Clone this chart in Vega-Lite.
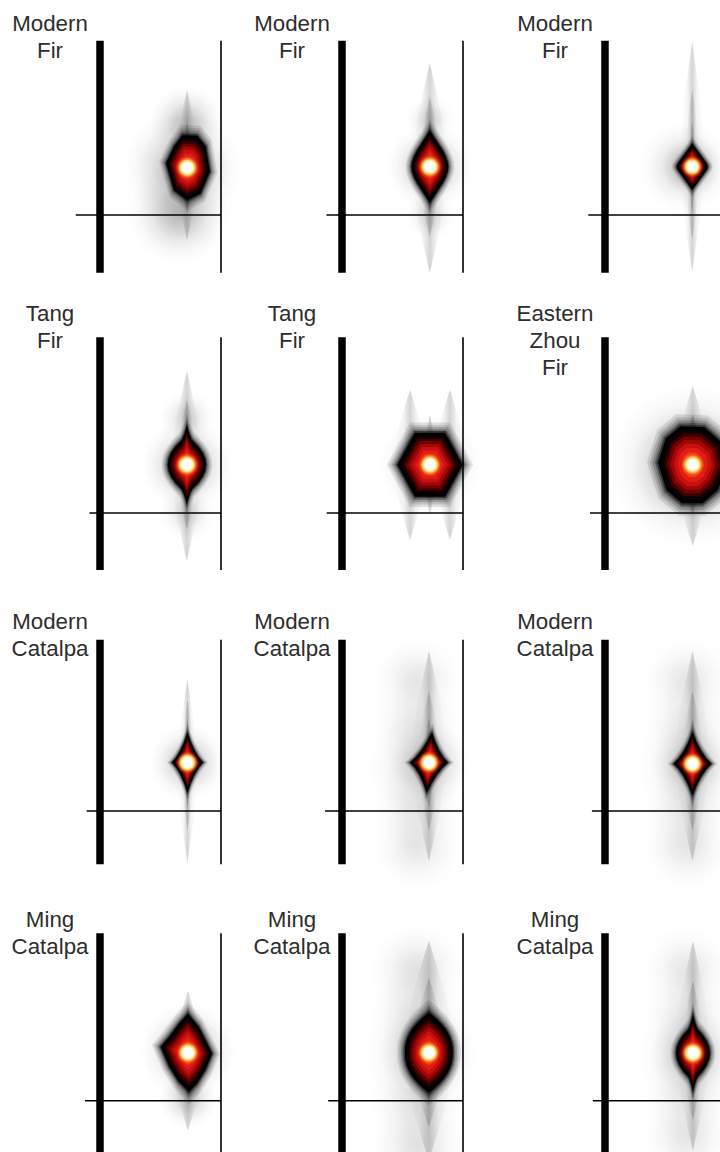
{
"$schema": "https://vega.github.io/schema/vega-lite/v6.json",
"padding": 0,
"background": "#ffffff",
"columns": 3,
"spacing": 0,
"align": "each",
"bounds": "flush",
"config": {
 "view": {"stroke": null},
 "axis": {"disable": true},
 "legend": {"disable": true},
 "range": {"symbol": [
  "M-0.15,-1L0.31,-0.98L0.57,-0.65L0.7,0.12L0.41,0.79L0,1L-0.41,0.69L-0.65,-0.14L-0.41,-0.65Z",
  "M0,-1L0.23,-0.65Q0.51,-0.25 0.51,0Q0.51,0.25 0.23,0.65L0,1L-0.23,0.65Q-0.51,0.25 -0.51,0Q-0.51,-0.25 -0.23,-0.65Z",
  "M0,-1L0.6,-0.18Q0.74,0 0.6,0.18L0,1L-0.6,0.18Q-0.74,0 -0.6,-0.18Z",
  "M0,-1Q0.06,-0.75 0.14,-0.62Q0.49,-0.3 0.49,0Q0.49,0.3 0.14,0.62Q0.06,0.75 0,1Q-0.06,0.75 -0.14,0.62Q-0.49,0.3 -0.49,0Q-0.49,-0.3 -0.14,-0.62Q-0.06,-0.75 0,-1Z",
  "M-0.47,-1L0.47,-1L1.02,0L0.47,1L-0.47,1L-1.02,0Z",
  "M-0.32,-1L0.3,-0.97L0.78,-0.55L0.9,0.05L0.65,0.66L0.25,1L-0.28,1L-0.68,0.66L-0.9,-0.05L-0.7,-0.68Z",
  "M0,-1Q0.22,-0.28 0.52,0Q0.22,0.28 0,1Q-0.22,0.28 -0.52,0Q-0.22,-0.28 0,-1Z",
  "M0.1,-1Q0.3,-0.3 0.63,0Q0.26,0.3 -0.08,1Q-0.28,0.3 -0.63,0Q-0.24,-0.3 0.1,-1Z",
  "M0,-1Q0.25,-0.3 0.6,0Q0.25,0.3 0,1Q-0.25,0.3 -0.6,0Q-0.25,-0.3 0,-1Z",
  "M0,-1L0.28,-0.66L0.45,-0.32L0.62,0.02L0.45,0.44L0.24,0.78L0.03,1L-0.24,0.74L-0.48,0.36L-0.7,-0.15L-0.48,-0.41L-0.23,-0.75Z",
  "M0,-1Q0.62,-0.55 0.6,0Q0.62,0.55 0,1Q-0.62,0.55 -0.6,0Q-0.62,-0.55 0,-1Z",
  "M0,-1Q0.05,-0.75 0.12,-0.62Q0.44,-0.3 0.44,0Q0.44,0.3 0.12,0.62Q0.05,0.75 0,1Q-0.05,0.75 -0.12,0.62Q-0.44,0.3 -0.44,0Q-0.44,-0.3 -0.12,-0.62Q-0.05,-0.75 0,-1Z",
  "circle",
  "M0,-1C0.035,-0.75 0.1,-0.35 0.1,0C0.1,0.35 0.035,0.75 0,1C-0.035,0.75 -0.1,0.35 -0.1,0C-0.1,-0.35 -0.035,-0.75 0,-1Z",
  "M0,-1C0.056,-0.75 0.16,-0.35 0.16,0C0.16,0.35 0.056,0.75 0,1C-0.056,0.75 -0.16,0.35 -0.16,0C-0.16,-0.35 -0.056,-0.75 0,-1Z",
  "M0,-1C0.077,-0.75 0.22,-0.35 0.22,0C0.22,0.35 0.077,0.75 0,1C-0.077,0.75 -0.22,0.35 -0.22,0C-0.22,-0.35 -0.077,-0.75 0,-1Z"
 ]}
},
"datasets": {"d": [
{"p":"11","k":"f","label":"Modern\nFir","top":1.743,"bot":-0.577,"from":-0.2,"ly":1.843},
{"p":"11","k":"s","f":"s2","x":0.72,"y":0.5,"h":1.5},
{"p":"11","k":"s","f":"s2","x":0.721,"y":0.473,"h":0.9},
{"p":"11","k":"c","f":"o","x":0.655,"y":0.02,"h":1.0,"wt":0.8},
{"p":"11","k":"c","f":"o","x":0.68,"y":0.47,"h":1.15,"wt":0.9},
{"p":"11","k":"c","f":"o","x":0.715,"y":0.92,"h":0.75,"wt":0.7},
{"p":"11","k":"g","lv":"h1","f":"c11","x":0.721,"y":0.473,"h":0.858},
{"p":"11","k":"g","lv":"h2","f":"c11","x":0.721,"y":0.473,"h":0.806},
{"p":"11","k":"g","lv":"h3","f":"c11","x":0.721,"y":0.473,"h":0.761},
{"p":"11","k":"g","lv":"h4","f":"c11","x":0.721,"y":0.473,"h":0.715},
{"p":"11","k":"g","lv":"h5","f":"c11","x":0.721,"y":0.473,"h":0.683},
{"p":"11","k":"g","lv":"k1","f":"c11","x":0.721,"y":0.473,"h":0.65},
{"p":"11","k":"g","lv":"k2","f":"c11","x":0.721,"y":0.473,"h":0.585},
{"p":"11","k":"g","lv":"k3","f":"c11","x":0.721,"y":0.473,"h":0.533},
{"p":"11","k":"g","lv":"k4","f":"c11","x":0.721,"y":0.473,"h":0.481},
{"p":"11","k":"g","lv":"k5","f":"c11","x":0.721,"y":0.473,"h":0.423},
{"p":"11","k":"g","lv":"k6","f":"c11","x":0.721,"y":0.473,"h":0.358},
{"p":"11","k":"g","lv":"k7","f":"c11","x":0.721,"y":0.473,"h":0.286},
{"p":"11","k":"g","lv":"k8","f":"c11","x":0.721,"y":0.473,"h":0.208},
{"p":"11","k":"w","f":"o","x":0.721,"y":0.473,"h":0.24},

{"p":"12","k":"f","label":"Modern\nFir","top":1.743,"bot":-0.577,"from":-0.128,"ly":1.843},
{"p":"12","k":"s","f":"s2","x":0.726,"y":0.47,"h":2.1},
{"p":"12","k":"s","f":"s2","x":0.726,"y":0.48,"h":1.4},
{"p":"12","k":"s","f":"s2","x":0.726,"y":0.483,"h":0.9},
{"p":"12","k":"c","f":"o","x":0.726,"y":0.483,"h":0.85,"wt":0.8},
{"p":"12","k":"c","f":"o","x":0.726,"y":0.0,"h":0.5,"wt":0.4},
{"p":"12","k":"c","f":"o","x":0.726,"y":0.95,"h":0.5,"wt":0.4},
{"p":"12","k":"g","lv":"h1","f":"c12","x":0.726,"y":0.483,"h":0.95},
{"p":"12","k":"g","lv":"h2","f":"c12","x":0.726,"y":0.483,"h":0.893},
{"p":"12","k":"g","lv":"h3","f":"c12","x":0.726,"y":0.483,"h":0.842},
{"p":"12","k":"g","lv":"h4","f":"c12","x":0.726,"y":0.483,"h":0.792},
{"p":"12","k":"g","lv":"h5","f":"c12","x":0.726,"y":0.483,"h":0.756},
{"p":"12","k":"g","lv":"k1","f":"c12","x":0.726,"y":0.483,"h":0.72},
{"p":"12","k":"g","lv":"k2","f":"c12","x":0.726,"y":0.483,"h":0.648},
{"p":"12","k":"g","lv":"k3","f":"c12","x":0.726,"y":0.483,"h":0.59},
{"p":"12","k":"g","lv":"k4","f":"c12","x":0.726,"y":0.483,"h":0.533},
{"p":"12","k":"g","lv":"k5","f":"c12","x":0.726,"y":0.483,"h":0.468},
{"p":"12","k":"g","lv":"k6","f":"c12","x":0.726,"y":0.483,"h":0.396},
{"p":"12","k":"g","lv":"k7","f":"c12","x":0.726,"y":0.483,"h":0.317},
{"p":"12","k":"g","lv":"k8","f":"c12","x":0.726,"y":0.483,"h":0.23},
{"p":"12","k":"w","f":"o","x":0.726,"y":0.483,"h":0.24},

{"p":"13","k":"f","label":"Modern\nFir","top":1.743,"bot":-0.577,"from":-0.138,"ly":1.843},
{"p":"13","k":"s","f":"s1","x":0.721,"y":0.58,"h":2.3},
{"p":"13","k":"s","f":"s1","x":0.721,"y":0.5,"h":1.5},
{"p":"13","k":"s","f":"s1","x":0.721,"y":0.483,"h":0.9},
{"p":"13","k":"c","f":"o","x":0.66,"y":0.483,"h":0.9,"wt":0.6},
{"p":"13","k":"c","f":"o","x":0.721,"y":0.483,"h":0.6,"wt":0.7},
{"p":"13","k":"g","lv":"h1","f":"c13","x":0.721,"y":0.483,"h":0.607},
{"p":"13","k":"g","lv":"h2","f":"c13","x":0.721,"y":0.483,"h":0.57},
{"p":"13","k":"g","lv":"h3","f":"c13","x":0.721,"y":0.483,"h":0.538},
{"p":"13","k":"g","lv":"h4","f":"c13","x":0.721,"y":0.483,"h":0.506},
{"p":"13","k":"g","lv":"h5","f":"c13","x":0.721,"y":0.483,"h":0.483},
{"p":"13","k":"g","lv":"k1","f":"c13","x":0.721,"y":0.483,"h":0.46},
{"p":"13","k":"g","lv":"k2","f":"c13","x":0.721,"y":0.483,"h":0.414},
{"p":"13","k":"g","lv":"k3","f":"c13","x":0.721,"y":0.483,"h":0.377},
{"p":"13","k":"g","lv":"k4","f":"c13","x":0.721,"y":0.483,"h":0.34},
{"p":"13","k":"g","lv":"k5","f":"c13","x":0.721,"y":0.483,"h":0.299},
{"p":"13","k":"g","lv":"k6","f":"c13","x":0.721,"y":0.483,"h":0.253},
{"p":"13","k":"g","lv":"k7","f":"c13","x":0.721,"y":0.483,"h":0.202},
{"p":"13","k":"g","lv":"k8","f":"c13","x":0.721,"y":0.483,"h":0.147},
{"p":"13","k":"w","f":"o","x":0.721,"y":0.483,"h":0.22},

{"p":"21","k":"f","label":"Tang\nFir","top":1.757,"bot":-0.57,"from":-0.087,"ly":1.923},
{"p":"21","k":"s","f":"s2","x":0.718,"y":0.47,"h":1.9},
{"p":"21","k":"s","f":"s2","x":0.718,"y":0.48,"h":1.3},
{"p":"21","k":"s","f":"s2","x":0.718,"y":0.483,"h":0.85},
{"p":"21","k":"c","f":"o","x":0.718,"y":0.483,"h":0.9,"wt":0.85},
{"p":"21","k":"c","f":"o","x":0.718,"y":0.0,"h":0.55,"wt":0.45},
{"p":"21","k":"c","f":"o","x":0.718,"y":0.95,"h":0.55,"wt":0.45},
{"p":"21","k":"g","lv":"h1","f":"c21","x":0.718,"y":0.483,"h":1.03},
{"p":"21","k":"g","lv":"h2","f":"c21","x":0.718,"y":0.483,"h":0.967},
{"p":"21","k":"g","lv":"h3","f":"c21","x":0.718,"y":0.483,"h":0.913},
{"p":"21","k":"g","lv":"h4","f":"c21","x":0.718,"y":0.483,"h":0.858},
{"p":"21","k":"g","lv":"h5","f":"c21","x":0.718,"y":0.483,"h":0.819},
{"p":"21","k":"g","lv":"k1","f":"c21","x":0.718,"y":0.483,"h":0.78},
{"p":"21","k":"g","lv":"k2","f":"c21","x":0.718,"y":0.483,"h":0.702},
{"p":"21","k":"g","lv":"k3","f":"c21","x":0.718,"y":0.483,"h":0.64},
{"p":"21","k":"g","lv":"k4","f":"c21","x":0.718,"y":0.483,"h":0.577},
{"p":"21","k":"g","lv":"k5","f":"c21","x":0.718,"y":0.483,"h":0.507},
{"p":"21","k":"g","lv":"k6","f":"c21","x":0.718,"y":0.483,"h":0.429},
{"p":"21","k":"g","lv":"k7","f":"c21","x":0.718,"y":0.483,"h":0.343},
{"p":"21","k":"g","lv":"k8","f":"c21","x":0.718,"y":0.483,"h":0.25},
{"p":"21","k":"w","f":"o","x":0.718,"y":0.483,"h":0.24},

{"p":"22","k":"f","label":"Tang\nFir","top":1.757,"bot":-0.57,"from":-0.126,"ly":1.923},
{"p":"22","k":"s","f":"s3","x":0.562,"y":0.483,"h":1.5},
{"p":"22","k":"s","f":"s3","x":0.892,"y":0.483,"h":1.5},
{"p":"22","k":"s","f":"s2","x":0.727,"y":0.483,"h":1.0},
{"p":"22","k":"c","f":"o","x":0.727,"y":0.483,"h":1.0,"wt":0.75},
{"p":"22","k":"g","lv":"h1","f":"c22","x":0.727,"y":0.483,"h":0.845},
{"p":"22","k":"g","lv":"h2","f":"c22","x":0.727,"y":0.483,"h":0.794},
{"p":"22","k":"g","lv":"h3","f":"c22","x":0.727,"y":0.483,"h":0.749},
{"p":"22","k":"g","lv":"h4","f":"c22","x":0.727,"y":0.483,"h":0.704},
{"p":"22","k":"g","lv":"h5","f":"c22","x":0.727,"y":0.483,"h":0.672},
{"p":"22","k":"g","lv":"k1","f":"c22","x":0.727,"y":0.483,"h":0.64},
{"p":"22","k":"g","lv":"k2","f":"c22","x":0.727,"y":0.483,"h":0.576},
{"p":"22","k":"g","lv":"k3","f":"c22","x":0.727,"y":0.483,"h":0.525},
{"p":"22","k":"g","lv":"k4","f":"c22","x":0.727,"y":0.483,"h":0.474},
{"p":"22","k":"g","lv":"k5","f":"c22","x":0.727,"y":0.483,"h":0.416},
{"p":"22","k":"g","lv":"k6","f":"c22","x":0.727,"y":0.483,"h":0.352},
{"p":"22","k":"g","lv":"k7","f":"c22","x":0.727,"y":0.483,"h":0.282},
{"p":"22","k":"g","lv":"k8","f":"c22","x":0.727,"y":0.483,"h":0.205},
{"p":"22","k":"w","f":"o","x":0.727,"y":0.483,"h":0.24},

{"p":"23","k":"f","label":"Eastern\nZhou\nFir","top":1.757,"bot":-0.57,"from":-0.124,"ly":1.923},
{"p":"23","k":"s","f":"s3","x":0.725,"y":0.47,"h":1.6},
{"p":"23","k":"s","f":"s3","x":0.725,"y":0.483,"h":1.0},
{"p":"23","k":"c","f":"o","x":0.71,"y":0.47,"h":1.6,"wt":0.85},
{"p":"23","k":"c","f":"o","x":0.72,"y":0.48,"h":1.15,"wt":0.75},
{"p":"23","k":"g","lv":"h1","f":"c23","x":0.725,"y":0.483,"h":1.016},
{"p":"23","k":"g","lv":"h2","f":"c23","x":0.725,"y":0.483,"h":0.955},
{"p":"23","k":"g","lv":"h3","f":"c23","x":0.725,"y":0.483,"h":0.901},
{"p":"23","k":"g","lv":"h4","f":"c23","x":0.725,"y":0.483,"h":0.847},
{"p":"23","k":"g","lv":"h5","f":"c23","x":0.725,"y":0.483,"h":0.809},
{"p":"23","k":"g","lv":"k1","f":"c23","x":0.725,"y":0.483,"h":0.77},
{"p":"23","k":"g","lv":"k2","f":"c23","x":0.725,"y":0.483,"h":0.693},
{"p":"23","k":"g","lv":"k3","f":"c23","x":0.725,"y":0.483,"h":0.631},
{"p":"23","k":"g","lv":"k4","f":"c23","x":0.725,"y":0.483,"h":0.57},
{"p":"23","k":"g","lv":"k5","f":"c23","x":0.725,"y":0.483,"h":0.501},
{"p":"23","k":"g","lv":"k6","f":"c23","x":0.725,"y":0.483,"h":0.424},
{"p":"23","k":"g","lv":"k7","f":"c23","x":0.725,"y":0.483,"h":0.339},
{"p":"23","k":"g","lv":"k8","f":"c23","x":0.725,"y":0.483,"h":0.246},
{"p":"23","k":"w","f":"o","x":0.725,"y":0.483,"h":0.24},

{"p":"31","k":"f","label":"Modern\nCatalpa","top":1.712,"bot":-0.533,"from":-0.11,"ly":1.824},
{"p":"31","k":"s","f":"s1","x":0.723,"y":0.4,"h":1.85},
{"p":"31","k":"s","f":"s1","x":0.723,"y":0.46,"h":1.3},
{"p":"31","k":"s","f":"s1","x":0.723,"y":0.484,"h":0.9},
{"p":"31","k":"c","f":"o","x":0.723,"y":0.484,"h":0.75,"wt":0.8},
{"p":"31","k":"g","lv":"h1","f":"c31","x":0.723,"y":0.484,"h":0.792},
{"p":"31","k":"g","lv":"h2","f":"c31","x":0.723,"y":0.484,"h":0.744},
{"p":"31","k":"g","lv":"h3","f":"c31","x":0.723,"y":0.484,"h":0.702},
{"p":"31","k":"g","lv":"h4","f":"c31","x":0.723,"y":0.484,"h":0.66},
{"p":"31","k":"g","lv":"h5","f":"c31","x":0.723,"y":0.484,"h":0.63},
{"p":"31","k":"g","lv":"k1","f":"c31","x":0.723,"y":0.484,"h":0.6},
{"p":"31","k":"g","lv":"k2","f":"c31","x":0.723,"y":0.484,"h":0.54},
{"p":"31","k":"g","lv":"k3","f":"c31","x":0.723,"y":0.484,"h":0.492},
{"p":"31","k":"g","lv":"k4","f":"c31","x":0.723,"y":0.484,"h":0.444},
{"p":"31","k":"g","lv":"k5","f":"c31","x":0.723,"y":0.484,"h":0.39},
{"p":"31","k":"g","lv":"k6","f":"c31","x":0.723,"y":0.484,"h":0.33},
{"p":"31","k":"g","lv":"k7","f":"c31","x":0.723,"y":0.484,"h":0.264},
{"p":"31","k":"g","lv":"k8","f":"c31","x":0.723,"y":0.484,"h":0.192},
{"p":"31","k":"w","f":"o","x":0.723,"y":0.484,"h":0.23},

{"p":"32","k":"f","label":"Modern\nCatalpa","top":1.712,"bot":-0.533,"from":-0.14,"ly":1.824},
{"p":"32","k":"s","f":"s2","x":0.719,"y":0.55,"h":2.1},
{"p":"32","k":"s","f":"s2","x":0.719,"y":0.5,"h":1.4},
{"p":"32","k":"s","f":"s2","x":0.719,"y":0.484,"h":0.9},
{"p":"32","k":"c","f":"o","x":0.62,"y":1.3,"h":0.9,"wt":0.3},
{"p":"32","k":"c","f":"o","x":0.62,"y":0.85,"h":0.9,"wt":0.3},
{"p":"32","k":"c","f":"o","x":0.62,"y":0.45,"h":1.0,"wt":0.35},
{"p":"32","k":"c","f":"o","x":0.62,"y":0.05,"h":0.9,"wt":0.3},
{"p":"32","k":"c","f":"o","x":0.62,"y":-0.35,"h":0.9,"wt":0.3},
{"p":"32","k":"c","f":"o","x":0.719,"y":0.484,"h":0.8,"wt":0.6},
{"p":"32","k":"g","lv":"h1","f":"c32","x":0.719,"y":0.484,"h":0.792},
{"p":"32","k":"g","lv":"h2","f":"c32","x":0.719,"y":0.484,"h":0.744},
{"p":"32","k":"g","lv":"h3","f":"c32","x":0.719,"y":0.484,"h":0.702},
{"p":"32","k":"g","lv":"h4","f":"c32","x":0.719,"y":0.484,"h":0.66},
{"p":"32","k":"g","lv":"h5","f":"c32","x":0.719,"y":0.484,"h":0.63},
{"p":"32","k":"g","lv":"k1","f":"c32","x":0.719,"y":0.484,"h":0.6},
{"p":"32","k":"g","lv":"k2","f":"c32","x":0.719,"y":0.484,"h":0.54},
{"p":"32","k":"g","lv":"k3","f":"c32","x":0.719,"y":0.484,"h":0.492},
{"p":"32","k":"g","lv":"k4","f":"c32","x":0.719,"y":0.484,"h":0.444},
{"p":"32","k":"g","lv":"k5","f":"c32","x":0.719,"y":0.484,"h":0.39},
{"p":"32","k":"g","lv":"k6","f":"c32","x":0.719,"y":0.484,"h":0.33},
{"p":"32","k":"g","lv":"k7","f":"c32","x":0.719,"y":0.484,"h":0.264},
{"p":"32","k":"g","lv":"k8","f":"c32","x":0.719,"y":0.484,"h":0.192},
{"p":"32","k":"w","f":"o","x":0.719,"y":0.484,"h":0.23},

{"p":"33","k":"f","label":"Modern\nCatalpa","top":1.712,"bot":-0.533,"from":-0.108,"ly":1.824},
{"p":"33","k":"s","f":"s2","x":0.723,"y":0.55,"h":2.1},
{"p":"33","k":"s","f":"s2","x":0.723,"y":0.5,"h":1.4},
{"p":"33","k":"s","f":"s2","x":0.723,"y":0.472,"h":0.9},
{"p":"33","k":"c","f":"o","x":0.68,"y":1.3,"h":0.9,"wt":0.3},
{"p":"33","k":"c","f":"o","x":0.68,"y":0.85,"h":0.9,"wt":0.3},
{"p":"33","k":"c","f":"o","x":0.68,"y":0.45,"h":1.0,"wt":0.35},
{"p":"33","k":"c","f":"o","x":0.68,"y":0.05,"h":0.9,"wt":0.3},
{"p":"33","k":"c","f":"o","x":0.68,"y":-0.35,"h":0.9,"wt":0.3},
{"p":"33","k":"c","f":"o","x":0.723,"y":0.472,"h":0.8,"wt":0.6},
{"p":"33","k":"g","lv":"h1","f":"c33","x":0.723,"y":0.472,"h":0.832},
{"p":"33","k":"g","lv":"h2","f":"c33","x":0.723,"y":0.472,"h":0.781},
{"p":"33","k":"g","lv":"h3","f":"c33","x":0.723,"y":0.472,"h":0.737},
{"p":"33","k":"g","lv":"h4","f":"c33","x":0.723,"y":0.472,"h":0.693},
{"p":"33","k":"g","lv":"h5","f":"c33","x":0.723,"y":0.472,"h":0.662},
{"p":"33","k":"g","lv":"k1","f":"c33","x":0.723,"y":0.472,"h":0.63},
{"p":"33","k":"g","lv":"k2","f":"c33","x":0.723,"y":0.472,"h":0.567},
{"p":"33","k":"g","lv":"k3","f":"c33","x":0.723,"y":0.472,"h":0.517},
{"p":"33","k":"g","lv":"k4","f":"c33","x":0.723,"y":0.472,"h":0.466},
{"p":"33","k":"g","lv":"k5","f":"c33","x":0.723,"y":0.472,"h":0.41},
{"p":"33","k":"g","lv":"k6","f":"c33","x":0.723,"y":0.472,"h":0.347},
{"p":"33","k":"g","lv":"k7","f":"c33","x":0.723,"y":0.472,"h":0.277},
{"p":"33","k":"g","lv":"k8","f":"c33","x":0.723,"y":0.472,"h":0.202},
{"p":"33","k":"w","f":"o","x":0.723,"y":0.472,"h":0.23},

{"p":"41","k":"f","label":"Ming\nCatalpa","top":1.674,"bot":-0.7,"from":-0.124,"ly":1.734},
{"p":"41","k":"s","f":"s3","x":0.727,"y":0.4,"h":1.4},
{"p":"41","k":"s","f":"s3","x":0.727,"y":0.48,"h":0.9},
{"p":"41","k":"c","f":"o","x":0.727,"y":0.5,"h":0.95,"wt":0.85},
{"p":"41","k":"c","f":"o","x":0.727,"y":0.02,"h":0.6,"wt":0.6},
{"p":"41","k":"g","lv":"h1","f":"c41","x":0.727,"y":0.48,"h":1.03},
{"p":"41","k":"g","lv":"h2","f":"c41","x":0.727,"y":0.48,"h":0.967},
{"p":"41","k":"g","lv":"h3","f":"c41","x":0.727,"y":0.48,"h":0.913},
{"p":"41","k":"g","lv":"h4","f":"c41","x":0.727,"y":0.48,"h":0.858},
{"p":"41","k":"g","lv":"h5","f":"c41","x":0.727,"y":0.48,"h":0.819},
{"p":"41","k":"g","lv":"k1","f":"c41","x":0.727,"y":0.48,"h":0.78},
{"p":"41","k":"g","lv":"k2","f":"c41","x":0.727,"y":0.48,"h":0.702},
{"p":"41","k":"g","lv":"k3","f":"c41","x":0.727,"y":0.48,"h":0.64},
{"p":"41","k":"g","lv":"k4","f":"c41","x":0.727,"y":0.48,"h":0.577},
{"p":"41","k":"g","lv":"k5","f":"c41","x":0.727,"y":0.48,"h":0.507},
{"p":"41","k":"g","lv":"k6","f":"c41","x":0.727,"y":0.48,"h":0.429},
{"p":"41","k":"g","lv":"k7","f":"c41","x":0.727,"y":0.48,"h":0.343},
{"p":"41","k":"g","lv":"k8","f":"c41","x":0.727,"y":0.48,"h":0.25},
{"p":"41","k":"w","f":"o","x":0.727,"y":0.48,"h":0.24},

{"p":"42","k":"f","label":"Ming\nCatalpa","top":1.674,"bot":-0.7,"from":-0.114,"ly":1.734},
{"p":"42","k":"s","f":"s3","x":0.718,"y":0.5,"h":2.2},
{"p":"42","k":"s","f":"s3","x":0.718,"y":0.48,"h":1.5},
{"p":"42","k":"s","f":"s3","x":0.718,"y":0.48,"h":0.95},
{"p":"42","k":"c","f":"o","x":0.62,"y":1.3,"h":0.95,"wt":0.35},
{"p":"42","k":"c","f":"o","x":0.62,"y":0.85,"h":0.95,"wt":0.35},
{"p":"42","k":"c","f":"o","x":0.62,"y":0.45,"h":1.05,"wt":0.4},
{"p":"42","k":"c","f":"o","x":0.62,"y":0.0,"h":0.95,"wt":0.35},
{"p":"42","k":"c","f":"o","x":0.63,"y":-0.45,"h":0.95,"wt":0.35},
{"p":"42","k":"c","f":"o","x":0.718,"y":0.48,"h":0.95,"wt":0.6},
{"p":"42","k":"g","lv":"h1","f":"c42","x":0.718,"y":0.48,"h":1.056},
{"p":"42","k":"g","lv":"h2","f":"c42","x":0.718,"y":0.48,"h":0.992},
{"p":"42","k":"g","lv":"h3","f":"c42","x":0.718,"y":0.48,"h":0.936},
{"p":"42","k":"g","lv":"h4","f":"c42","x":0.718,"y":0.48,"h":0.88},
{"p":"42","k":"g","lv":"h5","f":"c42","x":0.718,"y":0.48,"h":0.84},
{"p":"42","k":"g","lv":"k1","f":"c42","x":0.718,"y":0.48,"h":0.8},
{"p":"42","k":"g","lv":"k2","f":"c42","x":0.718,"y":0.48,"h":0.72},
{"p":"42","k":"g","lv":"k3","f":"c42","x":0.718,"y":0.48,"h":0.656},
{"p":"42","k":"g","lv":"k4","f":"c42","x":0.718,"y":0.48,"h":0.592},
{"p":"42","k":"g","lv":"k5","f":"c42","x":0.718,"y":0.48,"h":0.52},
{"p":"42","k":"g","lv":"k6","f":"c42","x":0.718,"y":0.48,"h":0.44},
{"p":"42","k":"g","lv":"k7","f":"c42","x":0.718,"y":0.48,"h":0.352},
{"p":"42","k":"g","lv":"k8","f":"c42","x":0.718,"y":0.48,"h":0.256},
{"p":"42","k":"w","f":"o","x":0.718,"y":0.48,"h":0.24},

{"p":"43","k":"f","label":"Ming\nCatalpa","top":1.674,"bot":-0.7,"from":-0.1,"ly":1.734},
{"p":"43","k":"s","f":"s2","x":0.727,"y":0.55,"h":2.1},
{"p":"43","k":"s","f":"s2","x":0.727,"y":0.5,"h":1.4},
{"p":"43","k":"s","f":"s2","x":0.727,"y":0.477,"h":0.9},
{"p":"43","k":"c","f":"o","x":0.68,"y":1.3,"h":0.9,"wt":0.3},
{"p":"43","k":"c","f":"o","x":0.68,"y":0.85,"h":0.9,"wt":0.3},
{"p":"43","k":"c","f":"o","x":0.68,"y":0.45,"h":1.0,"wt":0.35},
{"p":"43","k":"c","f":"o","x":0.68,"y":0.05,"h":0.9,"wt":0.3},
{"p":"43","k":"c","f":"o","x":0.68,"y":-0.35,"h":0.9,"wt":0.3},
{"p":"43","k":"c","f":"o","x":0.727,"y":0.477,"h":0.85,"wt":0.6},
{"p":"43","k":"g","lv":"h1","f":"c43","x":0.727,"y":0.477,"h":1.016},
{"p":"43","k":"g","lv":"h2","f":"c43","x":0.727,"y":0.477,"h":0.955},
{"p":"43","k":"g","lv":"h3","f":"c43","x":0.727,"y":0.477,"h":0.901},
{"p":"43","k":"g","lv":"h4","f":"c43","x":0.727,"y":0.477,"h":0.847},
{"p":"43","k":"g","lv":"h5","f":"c43","x":0.727,"y":0.477,"h":0.809},
{"p":"43","k":"g","lv":"k1","f":"c43","x":0.727,"y":0.477,"h":0.77},
{"p":"43","k":"g","lv":"k2","f":"c43","x":0.727,"y":0.477,"h":0.693},
{"p":"43","k":"g","lv":"k3","f":"c43","x":0.727,"y":0.477,"h":0.631},
{"p":"43","k":"g","lv":"k4","f":"c43","x":0.727,"y":0.477,"h":0.57},
{"p":"43","k":"g","lv":"k5","f":"c43","x":0.727,"y":0.477,"h":0.501},
{"p":"43","k":"g","lv":"k6","f":"c43","x":0.727,"y":0.477,"h":0.424},
{"p":"43","k":"g","lv":"k7","f":"c43","x":0.727,"y":0.477,"h":0.339},
{"p":"43","k":"g","lv":"k8","f":"c43","x":0.727,"y":0.477,"h":0.246},
{"p":"43","k":"w","f":"o","x":0.727,"y":0.477,"h":0.24}
]},
"data": {"name": "d"},
"concat": [
{"width":242,"height":298,"transform":[{"filter":{"field":"p","equal":"11"}}],"layer":[
{"encoding":{"x":{"field":"x","type":"quantitative","scale":{"domain":[-0.8264,1.1736],"nice":false,"zero":false}},"y":{"field":"y","type":"quantitative","scale":{"domain":[-0.83,2.15],"nice":false,"zero":false}},"shape":{"field":"f","type":"nominal","scale":{"domain":["c11","c12","c13","c21","c22","c23","c31","c32","c33","c41","c42","c43","o","s1","s2","s3"]}},"size":{"field":"h","type":"quantitative","scale":{"type":"pow","exponent":2,"domain":[0,1],"range":[0,10000]}}},"layer":[
{"transform":[{"filter":{"field":"k","equal":"s"}}],"mark":{"type":"point","filled":true,"opacity":1,"clip":true,"fill":{"gradient":"linear","x1":0,"y1":0,"x2":1,"y2":0,"stops":[{"offset":0,"color":"rgba(0,0,0,0)"},{"offset":0.3,"color":"rgba(0,0,0,0.045)"},{"offset":0.5,"color":"rgba(0,0,0,0.17)"},{"offset":0.7,"color":"rgba(0,0,0,0.045)"},{"offset":1,"color":"rgba(0,0,0,0)"}]}}},
{"transform":[{"filter":{"field":"k","equal":"c"}}],"mark":{"type":"point","filled":true,"clip":true,"fill":{"gradient":"radial","x1":0.5,"y1":0.5,"r1":0,"x2":0.5,"y2":0.5,"r2":0.5,"stops":[{"offset":0,"color":"rgba(0,0,0,0.35)"},{"offset":0.3,"color":"rgba(0,0,0,0.24)"},{"offset":0.55,"color":"rgba(0,0,0,0.11)"},{"offset":0.78,"color":"rgba(0,0,0,0.035)"},{"offset":1,"color":"rgba(0,0,0,0)"}]}},"encoding":{"opacity":{"field":"wt","type":"quantitative","scale":{"domain":[0,1],"range":[0,1]}}}},
{"transform":[{"filter":{"field":"k","equal":"g"}}],"mark":{"type":"point","filled":true,"opacity":1,"clip":true},"encoding":{"color":{"field":"lv","type":"nominal","scale":{"domain":["h1","h2","h3","h4","h5","k1","k2","k3","k4","k5","k6","k7","k8"],"range":["rgba(0,0,0,0.1)","rgba(0,0,0,0.12)","rgba(0,0,0,0.18)","rgba(0,0,0,0.28)","rgba(0,0,0,0.45)","#000000","#0e0000","#3a0000","#6e0202","#a00808","#c81010","#e21e14","#f03a1a"]}},"order":{"field":"lv","type":"ordinal"}}},
{"transform":[{"filter":{"field":"k","equal":"w"}}],"mark":{"type":"point","filled":true,"opacity":1,"clip":true,"fill":{"gradient":"radial","x1":0.5,"y1":0.5,"r1":0,"x2":0.5,"y2":0.5,"r2":0.5,"stops":[{"offset":0,"color":"#ffffff"},{"offset":0.4,"color":"#ffffff"},{"offset":0.52,"color":"#fff3a8"},{"offset":0.66,"color":"rgba(255,200,70,0.85)"},{"offset":0.82,"color":"rgba(250,120,30,0.4)"},{"offset":1,"color":"rgba(240,60,20,0)"}]}}}
]},
{"transform":[{"filter":{"field":"k","equal":"f"}}],"mark":{"type":"rule","strokeWidth":7.5,"color":"#000000","clip":true},"encoding":{"x":{"datum":0,"type":"quantitative"},"y":{"field":"bot","type":"quantitative"},"y2":{"field":"top"}}},
{"transform":[{"filter":{"field":"k","equal":"f"}}],"mark":{"type":"rule","strokeWidth":1.6,"color":"#000000","clip":true},"encoding":{"x":{"datum":1,"type":"quantitative"},"y":{"field":"bot","type":"quantitative"},"y2":{"field":"top"}}},
{"transform":[{"filter":{"field":"k","equal":"f"}}],"mark":{"type":"rule","strokeWidth":1.6,"color":"#000000","clip":true},"encoding":{"x":{"field":"from","type":"quantitative"},"x2":{"datum":1},"y":{"datum":0,"type":"quantitative"}}},
{"transform":[{"filter":{"field":"k","equal":"f"}}],"mark":{"type":"text","align":"center","baseline":"alphabetic","lineBreak":"\n","font":"Liberation Sans","fontSize":22.3,"lineHeight":27,"color":"#2d2d2d"},"encoding":{"x":{"datum":-0.413,"type":"quantitative"},"y":{"field":"ly","type":"quantitative"},"text":{"field":"label"}}}
]},
{"width":263,"height":298,"transform":[{"filter":{"field":"p","equal":"12"}}],"layer":[
{"encoding":{"x":{"field":"x","type":"quantitative","scale":{"domain":[-0.8264,1.3471],"nice":false,"zero":false}},"y":{"field":"y","type":"quantitative","scale":{"domain":[-0.83,2.15],"nice":false,"zero":false}},"shape":{"field":"f","type":"nominal","scale":{"domain":["c11","c12","c13","c21","c22","c23","c31","c32","c33","c41","c42","c43","o","s1","s2","s3"]}},"size":{"field":"h","type":"quantitative","scale":{"type":"pow","exponent":2,"domain":[0,1],"range":[0,10000]}}},"layer":[
{"transform":[{"filter":{"field":"k","equal":"s"}}],"mark":{"type":"point","filled":true,"opacity":1,"clip":true,"fill":{"gradient":"linear","x1":0,"y1":0,"x2":1,"y2":0,"stops":[{"offset":0,"color":"rgba(0,0,0,0)"},{"offset":0.3,"color":"rgba(0,0,0,0.045)"},{"offset":0.5,"color":"rgba(0,0,0,0.17)"},{"offset":0.7,"color":"rgba(0,0,0,0.045)"},{"offset":1,"color":"rgba(0,0,0,0)"}]}}},
{"transform":[{"filter":{"field":"k","equal":"c"}}],"mark":{"type":"point","filled":true,"clip":true,"fill":{"gradient":"radial","x1":0.5,"y1":0.5,"r1":0,"x2":0.5,"y2":0.5,"r2":0.5,"stops":[{"offset":0,"color":"rgba(0,0,0,0.35)"},{"offset":0.3,"color":"rgba(0,0,0,0.24)"},{"offset":0.55,"color":"rgba(0,0,0,0.11)"},{"offset":0.78,"color":"rgba(0,0,0,0.035)"},{"offset":1,"color":"rgba(0,0,0,0)"}]}},"encoding":{"opacity":{"field":"wt","type":"quantitative","scale":{"domain":[0,1],"range":[0,1]}}}},
{"transform":[{"filter":{"field":"k","equal":"g"}}],"mark":{"type":"point","filled":true,"opacity":1,"clip":true},"encoding":{"color":{"field":"lv","type":"nominal","scale":{"domain":["h1","h2","h3","h4","h5","k1","k2","k3","k4","k5","k6","k7","k8"],"range":["rgba(0,0,0,0.1)","rgba(0,0,0,0.12)","rgba(0,0,0,0.18)","rgba(0,0,0,0.28)","rgba(0,0,0,0.45)","#000000","#0e0000","#3a0000","#6e0202","#a00808","#c81010","#e21e14","#f03a1a"]}},"order":{"field":"lv","type":"ordinal"}}},
{"transform":[{"filter":{"field":"k","equal":"w"}}],"mark":{"type":"point","filled":true,"opacity":1,"clip":true,"fill":{"gradient":"radial","x1":0.5,"y1":0.5,"r1":0,"x2":0.5,"y2":0.5,"r2":0.5,"stops":[{"offset":0,"color":"#ffffff"},{"offset":0.4,"color":"#ffffff"},{"offset":0.52,"color":"#fff3a8"},{"offset":0.66,"color":"rgba(255,200,70,0.85)"},{"offset":0.82,"color":"rgba(250,120,30,0.4)"},{"offset":1,"color":"rgba(240,60,20,0)"}]}}}
]},
{"transform":[{"filter":{"field":"k","equal":"f"}}],"mark":{"type":"rule","strokeWidth":7.5,"color":"#000000","clip":true},"encoding":{"x":{"datum":0,"type":"quantitative"},"y":{"field":"bot","type":"quantitative"},"y2":{"field":"top"}}},
{"transform":[{"filter":{"field":"k","equal":"f"}}],"mark":{"type":"rule","strokeWidth":1.6,"color":"#000000","clip":true},"encoding":{"x":{"datum":1,"type":"quantitative"},"y":{"field":"bot","type":"quantitative"},"y2":{"field":"top"}}},
{"transform":[{"filter":{"field":"k","equal":"f"}}],"mark":{"type":"rule","strokeWidth":1.6,"color":"#000000","clip":true},"encoding":{"x":{"field":"from","type":"quantitative"},"x2":{"datum":1},"y":{"datum":0,"type":"quantitative"}}},
{"transform":[{"filter":{"field":"k","equal":"f"}}],"mark":{"type":"text","align":"center","baseline":"alphabetic","lineBreak":"\n","font":"Liberation Sans","fontSize":22.3,"lineHeight":27,"color":"#2d2d2d"},"encoding":{"x":{"datum":-0.413,"type":"quantitative"},"y":{"field":"ly","type":"quantitative"},"text":{"field":"label"}}}
]},
{"width":215,"height":298,"transform":[{"filter":{"field":"p","equal":"13"}}],"layer":[
{"encoding":{"x":{"field":"x","type":"quantitative","scale":{"domain":[-0.8264,0.9504],"nice":false,"zero":false}},"y":{"field":"y","type":"quantitative","scale":{"domain":[-0.83,2.15],"nice":false,"zero":false}},"shape":{"field":"f","type":"nominal","scale":{"domain":["c11","c12","c13","c21","c22","c23","c31","c32","c33","c41","c42","c43","o","s1","s2","s3"]}},"size":{"field":"h","type":"quantitative","scale":{"type":"pow","exponent":2,"domain":[0,1],"range":[0,10000]}}},"layer":[
{"transform":[{"filter":{"field":"k","equal":"s"}}],"mark":{"type":"point","filled":true,"opacity":1,"clip":true,"fill":{"gradient":"linear","x1":0,"y1":0,"x2":1,"y2":0,"stops":[{"offset":0,"color":"rgba(0,0,0,0)"},{"offset":0.3,"color":"rgba(0,0,0,0.045)"},{"offset":0.5,"color":"rgba(0,0,0,0.17)"},{"offset":0.7,"color":"rgba(0,0,0,0.045)"},{"offset":1,"color":"rgba(0,0,0,0)"}]}}},
{"transform":[{"filter":{"field":"k","equal":"c"}}],"mark":{"type":"point","filled":true,"clip":true,"fill":{"gradient":"radial","x1":0.5,"y1":0.5,"r1":0,"x2":0.5,"y2":0.5,"r2":0.5,"stops":[{"offset":0,"color":"rgba(0,0,0,0.35)"},{"offset":0.3,"color":"rgba(0,0,0,0.24)"},{"offset":0.55,"color":"rgba(0,0,0,0.11)"},{"offset":0.78,"color":"rgba(0,0,0,0.035)"},{"offset":1,"color":"rgba(0,0,0,0)"}]}},"encoding":{"opacity":{"field":"wt","type":"quantitative","scale":{"domain":[0,1],"range":[0,1]}}}},
{"transform":[{"filter":{"field":"k","equal":"g"}}],"mark":{"type":"point","filled":true,"opacity":1,"clip":true},"encoding":{"color":{"field":"lv","type":"nominal","scale":{"domain":["h1","h2","h3","h4","h5","k1","k2","k3","k4","k5","k6","k7","k8"],"range":["rgba(0,0,0,0.1)","rgba(0,0,0,0.12)","rgba(0,0,0,0.18)","rgba(0,0,0,0.28)","rgba(0,0,0,0.45)","#000000","#0e0000","#3a0000","#6e0202","#a00808","#c81010","#e21e14","#f03a1a"]}},"order":{"field":"lv","type":"ordinal"}}},
{"transform":[{"filter":{"field":"k","equal":"w"}}],"mark":{"type":"point","filled":true,"opacity":1,"clip":true,"fill":{"gradient":"radial","x1":0.5,"y1":0.5,"r1":0,"x2":0.5,"y2":0.5,"r2":0.5,"stops":[{"offset":0,"color":"#ffffff"},{"offset":0.4,"color":"#ffffff"},{"offset":0.52,"color":"#fff3a8"},{"offset":0.66,"color":"rgba(255,200,70,0.85)"},{"offset":0.82,"color":"rgba(250,120,30,0.4)"},{"offset":1,"color":"rgba(240,60,20,0)"}]}}}
]},
{"transform":[{"filter":{"field":"k","equal":"f"}}],"mark":{"type":"rule","strokeWidth":7.5,"color":"#000000","clip":true},"encoding":{"x":{"datum":0,"type":"quantitative"},"y":{"field":"bot","type":"quantitative"},"y2":{"field":"top"}}},
{"transform":[{"filter":{"field":"k","equal":"f"}}],"mark":{"type":"rule","strokeWidth":1.6,"color":"#000000","clip":true},"encoding":{"x":{"datum":1,"type":"quantitative"},"y":{"field":"bot","type":"quantitative"},"y2":{"field":"top"}}},
{"transform":[{"filter":{"field":"k","equal":"f"}}],"mark":{"type":"rule","strokeWidth":1.6,"color":"#000000","clip":true},"encoding":{"x":{"field":"from","type":"quantitative"},"x2":{"datum":1},"y":{"datum":0,"type":"quantitative"}}},
{"transform":[{"filter":{"field":"k","equal":"f"}}],"mark":{"type":"text","align":"center","baseline":"alphabetic","lineBreak":"\n","font":"Liberation Sans","fontSize":22.3,"lineHeight":27,"color":"#2d2d2d"},"encoding":{"x":{"datum":-0.413,"type":"quantitative"},"y":{"field":"ly","type":"quantitative"},"text":{"field":"label"}}}
]},
{"width":242,"height":298,"transform":[{"filter":{"field":"p","equal":"21"}}],"layer":[
{"encoding":{"x":{"field":"x","type":"quantitative","scale":{"domain":[-0.8264,1.1736],"nice":false,"zero":false}},"y":{"field":"y","type":"quantitative","scale":{"domain":[-0.83,2.15],"nice":false,"zero":false}},"shape":{"field":"f","type":"nominal","scale":{"domain":["c11","c12","c13","c21","c22","c23","c31","c32","c33","c41","c42","c43","o","s1","s2","s3"]}},"size":{"field":"h","type":"quantitative","scale":{"type":"pow","exponent":2,"domain":[0,1],"range":[0,10000]}}},"layer":[
{"transform":[{"filter":{"field":"k","equal":"s"}}],"mark":{"type":"point","filled":true,"opacity":1,"clip":true,"fill":{"gradient":"linear","x1":0,"y1":0,"x2":1,"y2":0,"stops":[{"offset":0,"color":"rgba(0,0,0,0)"},{"offset":0.3,"color":"rgba(0,0,0,0.045)"},{"offset":0.5,"color":"rgba(0,0,0,0.17)"},{"offset":0.7,"color":"rgba(0,0,0,0.045)"},{"offset":1,"color":"rgba(0,0,0,0)"}]}}},
{"transform":[{"filter":{"field":"k","equal":"c"}}],"mark":{"type":"point","filled":true,"clip":true,"fill":{"gradient":"radial","x1":0.5,"y1":0.5,"r1":0,"x2":0.5,"y2":0.5,"r2":0.5,"stops":[{"offset":0,"color":"rgba(0,0,0,0.35)"},{"offset":0.3,"color":"rgba(0,0,0,0.24)"},{"offset":0.55,"color":"rgba(0,0,0,0.11)"},{"offset":0.78,"color":"rgba(0,0,0,0.035)"},{"offset":1,"color":"rgba(0,0,0,0)"}]}},"encoding":{"opacity":{"field":"wt","type":"quantitative","scale":{"domain":[0,1],"range":[0,1]}}}},
{"transform":[{"filter":{"field":"k","equal":"g"}}],"mark":{"type":"point","filled":true,"opacity":1,"clip":true},"encoding":{"color":{"field":"lv","type":"nominal","scale":{"domain":["h1","h2","h3","h4","h5","k1","k2","k3","k4","k5","k6","k7","k8"],"range":["rgba(0,0,0,0.1)","rgba(0,0,0,0.12)","rgba(0,0,0,0.18)","rgba(0,0,0,0.28)","rgba(0,0,0,0.45)","#000000","#0e0000","#3a0000","#6e0202","#a00808","#c81010","#e21e14","#f03a1a"]}},"order":{"field":"lv","type":"ordinal"}}},
{"transform":[{"filter":{"field":"k","equal":"w"}}],"mark":{"type":"point","filled":true,"opacity":1,"clip":true,"fill":{"gradient":"radial","x1":0.5,"y1":0.5,"r1":0,"x2":0.5,"y2":0.5,"r2":0.5,"stops":[{"offset":0,"color":"#ffffff"},{"offset":0.4,"color":"#ffffff"},{"offset":0.52,"color":"#fff3a8"},{"offset":0.66,"color":"rgba(255,200,70,0.85)"},{"offset":0.82,"color":"rgba(250,120,30,0.4)"},{"offset":1,"color":"rgba(240,60,20,0)"}]}}}
]},
{"transform":[{"filter":{"field":"k","equal":"f"}}],"mark":{"type":"rule","strokeWidth":7.5,"color":"#000000","clip":true},"encoding":{"x":{"datum":0,"type":"quantitative"},"y":{"field":"bot","type":"quantitative"},"y2":{"field":"top"}}},
{"transform":[{"filter":{"field":"k","equal":"f"}}],"mark":{"type":"rule","strokeWidth":1.6,"color":"#000000","clip":true},"encoding":{"x":{"datum":1,"type":"quantitative"},"y":{"field":"bot","type":"quantitative"},"y2":{"field":"top"}}},
{"transform":[{"filter":{"field":"k","equal":"f"}}],"mark":{"type":"rule","strokeWidth":1.6,"color":"#000000","clip":true},"encoding":{"x":{"field":"from","type":"quantitative"},"x2":{"datum":1},"y":{"datum":0,"type":"quantitative"}}},
{"transform":[{"filter":{"field":"k","equal":"f"}}],"mark":{"type":"text","align":"center","baseline":"alphabetic","lineBreak":"\n","font":"Liberation Sans","fontSize":22.3,"lineHeight":27,"color":"#2d2d2d"},"encoding":{"x":{"datum":-0.413,"type":"quantitative"},"y":{"field":"ly","type":"quantitative"},"text":{"field":"label"}}}
]},
{"width":263,"height":298,"transform":[{"filter":{"field":"p","equal":"22"}}],"layer":[
{"encoding":{"x":{"field":"x","type":"quantitative","scale":{"domain":[-0.8264,1.3471],"nice":false,"zero":false}},"y":{"field":"y","type":"quantitative","scale":{"domain":[-0.83,2.15],"nice":false,"zero":false}},"shape":{"field":"f","type":"nominal","scale":{"domain":["c11","c12","c13","c21","c22","c23","c31","c32","c33","c41","c42","c43","o","s1","s2","s3"]}},"size":{"field":"h","type":"quantitative","scale":{"type":"pow","exponent":2,"domain":[0,1],"range":[0,10000]}}},"layer":[
{"transform":[{"filter":{"field":"k","equal":"s"}}],"mark":{"type":"point","filled":true,"opacity":1,"clip":true,"fill":{"gradient":"linear","x1":0,"y1":0,"x2":1,"y2":0,"stops":[{"offset":0,"color":"rgba(0,0,0,0)"},{"offset":0.3,"color":"rgba(0,0,0,0.045)"},{"offset":0.5,"color":"rgba(0,0,0,0.17)"},{"offset":0.7,"color":"rgba(0,0,0,0.045)"},{"offset":1,"color":"rgba(0,0,0,0)"}]}}},
{"transform":[{"filter":{"field":"k","equal":"c"}}],"mark":{"type":"point","filled":true,"clip":true,"fill":{"gradient":"radial","x1":0.5,"y1":0.5,"r1":0,"x2":0.5,"y2":0.5,"r2":0.5,"stops":[{"offset":0,"color":"rgba(0,0,0,0.35)"},{"offset":0.3,"color":"rgba(0,0,0,0.24)"},{"offset":0.55,"color":"rgba(0,0,0,0.11)"},{"offset":0.78,"color":"rgba(0,0,0,0.035)"},{"offset":1,"color":"rgba(0,0,0,0)"}]}},"encoding":{"opacity":{"field":"wt","type":"quantitative","scale":{"domain":[0,1],"range":[0,1]}}}},
{"transform":[{"filter":{"field":"k","equal":"g"}}],"mark":{"type":"point","filled":true,"opacity":1,"clip":true},"encoding":{"color":{"field":"lv","type":"nominal","scale":{"domain":["h1","h2","h3","h4","h5","k1","k2","k3","k4","k5","k6","k7","k8"],"range":["rgba(0,0,0,0.1)","rgba(0,0,0,0.12)","rgba(0,0,0,0.18)","rgba(0,0,0,0.28)","rgba(0,0,0,0.45)","#000000","#0e0000","#3a0000","#6e0202","#a00808","#c81010","#e21e14","#f03a1a"]}},"order":{"field":"lv","type":"ordinal"}}},
{"transform":[{"filter":{"field":"k","equal":"w"}}],"mark":{"type":"point","filled":true,"opacity":1,"clip":true,"fill":{"gradient":"radial","x1":0.5,"y1":0.5,"r1":0,"x2":0.5,"y2":0.5,"r2":0.5,"stops":[{"offset":0,"color":"#ffffff"},{"offset":0.4,"color":"#ffffff"},{"offset":0.52,"color":"#fff3a8"},{"offset":0.66,"color":"rgba(255,200,70,0.85)"},{"offset":0.82,"color":"rgba(250,120,30,0.4)"},{"offset":1,"color":"rgba(240,60,20,0)"}]}}}
]},
{"transform":[{"filter":{"field":"k","equal":"f"}}],"mark":{"type":"rule","strokeWidth":7.5,"color":"#000000","clip":true},"encoding":{"x":{"datum":0,"type":"quantitative"},"y":{"field":"bot","type":"quantitative"},"y2":{"field":"top"}}},
{"transform":[{"filter":{"field":"k","equal":"f"}}],"mark":{"type":"rule","strokeWidth":1.6,"color":"#000000","clip":true},"encoding":{"x":{"datum":1,"type":"quantitative"},"y":{"field":"bot","type":"quantitative"},"y2":{"field":"top"}}},
{"transform":[{"filter":{"field":"k","equal":"f"}}],"mark":{"type":"rule","strokeWidth":1.6,"color":"#000000","clip":true},"encoding":{"x":{"field":"from","type":"quantitative"},"x2":{"datum":1},"y":{"datum":0,"type":"quantitative"}}},
{"transform":[{"filter":{"field":"k","equal":"f"}}],"mark":{"type":"text","align":"center","baseline":"alphabetic","lineBreak":"\n","font":"Liberation Sans","fontSize":22.3,"lineHeight":27,"color":"#2d2d2d"},"encoding":{"x":{"datum":-0.413,"type":"quantitative"},"y":{"field":"ly","type":"quantitative"},"text":{"field":"label"}}}
]},
{"width":215,"height":298,"transform":[{"filter":{"field":"p","equal":"23"}}],"layer":[
{"encoding":{"x":{"field":"x","type":"quantitative","scale":{"domain":[-0.8264,0.9504],"nice":false,"zero":false}},"y":{"field":"y","type":"quantitative","scale":{"domain":[-0.83,2.15],"nice":false,"zero":false}},"shape":{"field":"f","type":"nominal","scale":{"domain":["c11","c12","c13","c21","c22","c23","c31","c32","c33","c41","c42","c43","o","s1","s2","s3"]}},"size":{"field":"h","type":"quantitative","scale":{"type":"pow","exponent":2,"domain":[0,1],"range":[0,10000]}}},"layer":[
{"transform":[{"filter":{"field":"k","equal":"s"}}],"mark":{"type":"point","filled":true,"opacity":1,"clip":true,"fill":{"gradient":"linear","x1":0,"y1":0,"x2":1,"y2":0,"stops":[{"offset":0,"color":"rgba(0,0,0,0)"},{"offset":0.3,"color":"rgba(0,0,0,0.045)"},{"offset":0.5,"color":"rgba(0,0,0,0.17)"},{"offset":0.7,"color":"rgba(0,0,0,0.045)"},{"offset":1,"color":"rgba(0,0,0,0)"}]}}},
{"transform":[{"filter":{"field":"k","equal":"c"}}],"mark":{"type":"point","filled":true,"clip":true,"fill":{"gradient":"radial","x1":0.5,"y1":0.5,"r1":0,"x2":0.5,"y2":0.5,"r2":0.5,"stops":[{"offset":0,"color":"rgba(0,0,0,0.35)"},{"offset":0.3,"color":"rgba(0,0,0,0.24)"},{"offset":0.55,"color":"rgba(0,0,0,0.11)"},{"offset":0.78,"color":"rgba(0,0,0,0.035)"},{"offset":1,"color":"rgba(0,0,0,0)"}]}},"encoding":{"opacity":{"field":"wt","type":"quantitative","scale":{"domain":[0,1],"range":[0,1]}}}},
{"transform":[{"filter":{"field":"k","equal":"g"}}],"mark":{"type":"point","filled":true,"opacity":1,"clip":true},"encoding":{"color":{"field":"lv","type":"nominal","scale":{"domain":["h1","h2","h3","h4","h5","k1","k2","k3","k4","k5","k6","k7","k8"],"range":["rgba(0,0,0,0.1)","rgba(0,0,0,0.12)","rgba(0,0,0,0.18)","rgba(0,0,0,0.28)","rgba(0,0,0,0.45)","#000000","#0e0000","#3a0000","#6e0202","#a00808","#c81010","#e21e14","#f03a1a"]}},"order":{"field":"lv","type":"ordinal"}}},
{"transform":[{"filter":{"field":"k","equal":"w"}}],"mark":{"type":"point","filled":true,"opacity":1,"clip":true,"fill":{"gradient":"radial","x1":0.5,"y1":0.5,"r1":0,"x2":0.5,"y2":0.5,"r2":0.5,"stops":[{"offset":0,"color":"#ffffff"},{"offset":0.4,"color":"#ffffff"},{"offset":0.52,"color":"#fff3a8"},{"offset":0.66,"color":"rgba(255,200,70,0.85)"},{"offset":0.82,"color":"rgba(250,120,30,0.4)"},{"offset":1,"color":"rgba(240,60,20,0)"}]}}}
]},
{"transform":[{"filter":{"field":"k","equal":"f"}}],"mark":{"type":"rule","strokeWidth":7.5,"color":"#000000","clip":true},"encoding":{"x":{"datum":0,"type":"quantitative"},"y":{"field":"bot","type":"quantitative"},"y2":{"field":"top"}}},
{"transform":[{"filter":{"field":"k","equal":"f"}}],"mark":{"type":"rule","strokeWidth":1.6,"color":"#000000","clip":true},"encoding":{"x":{"datum":1,"type":"quantitative"},"y":{"field":"bot","type":"quantitative"},"y2":{"field":"top"}}},
{"transform":[{"filter":{"field":"k","equal":"f"}}],"mark":{"type":"rule","strokeWidth":1.6,"color":"#000000","clip":true},"encoding":{"x":{"field":"from","type":"quantitative"},"x2":{"datum":1},"y":{"datum":0,"type":"quantitative"}}},
{"transform":[{"filter":{"field":"k","equal":"f"}}],"mark":{"type":"text","align":"center","baseline":"alphabetic","lineBreak":"\n","font":"Liberation Sans","fontSize":22.3,"lineHeight":27,"color":"#2d2d2d"},"encoding":{"x":{"datum":-0.413,"type":"quantitative"},"y":{"field":"ly","type":"quantitative"},"text":{"field":"label"}}}
]},
{"width":242,"height":298,"transform":[{"filter":{"field":"p","equal":"31"}}],"layer":[
{"encoding":{"x":{"field":"x","type":"quantitative","scale":{"domain":[-0.8264,1.1736],"nice":false,"zero":false}},"y":{"field":"y","type":"quantitative","scale":{"domain":[-0.83,2.15],"nice":false,"zero":false}},"shape":{"field":"f","type":"nominal","scale":{"domain":["c11","c12","c13","c21","c22","c23","c31","c32","c33","c41","c42","c43","o","s1","s2","s3"]}},"size":{"field":"h","type":"quantitative","scale":{"type":"pow","exponent":2,"domain":[0,1],"range":[0,10000]}}},"layer":[
{"transform":[{"filter":{"field":"k","equal":"s"}}],"mark":{"type":"point","filled":true,"opacity":1,"clip":true,"fill":{"gradient":"linear","x1":0,"y1":0,"x2":1,"y2":0,"stops":[{"offset":0,"color":"rgba(0,0,0,0)"},{"offset":0.3,"color":"rgba(0,0,0,0.045)"},{"offset":0.5,"color":"rgba(0,0,0,0.17)"},{"offset":0.7,"color":"rgba(0,0,0,0.045)"},{"offset":1,"color":"rgba(0,0,0,0)"}]}}},
{"transform":[{"filter":{"field":"k","equal":"c"}}],"mark":{"type":"point","filled":true,"clip":true,"fill":{"gradient":"radial","x1":0.5,"y1":0.5,"r1":0,"x2":0.5,"y2":0.5,"r2":0.5,"stops":[{"offset":0,"color":"rgba(0,0,0,0.35)"},{"offset":0.3,"color":"rgba(0,0,0,0.24)"},{"offset":0.55,"color":"rgba(0,0,0,0.11)"},{"offset":0.78,"color":"rgba(0,0,0,0.035)"},{"offset":1,"color":"rgba(0,0,0,0)"}]}},"encoding":{"opacity":{"field":"wt","type":"quantitative","scale":{"domain":[0,1],"range":[0,1]}}}},
{"transform":[{"filter":{"field":"k","equal":"g"}}],"mark":{"type":"point","filled":true,"opacity":1,"clip":true},"encoding":{"color":{"field":"lv","type":"nominal","scale":{"domain":["h1","h2","h3","h4","h5","k1","k2","k3","k4","k5","k6","k7","k8"],"range":["rgba(0,0,0,0.1)","rgba(0,0,0,0.12)","rgba(0,0,0,0.18)","rgba(0,0,0,0.28)","rgba(0,0,0,0.45)","#000000","#0e0000","#3a0000","#6e0202","#a00808","#c81010","#e21e14","#f03a1a"]}},"order":{"field":"lv","type":"ordinal"}}},
{"transform":[{"filter":{"field":"k","equal":"w"}}],"mark":{"type":"point","filled":true,"opacity":1,"clip":true,"fill":{"gradient":"radial","x1":0.5,"y1":0.5,"r1":0,"x2":0.5,"y2":0.5,"r2":0.5,"stops":[{"offset":0,"color":"#ffffff"},{"offset":0.4,"color":"#ffffff"},{"offset":0.52,"color":"#fff3a8"},{"offset":0.66,"color":"rgba(255,200,70,0.85)"},{"offset":0.82,"color":"rgba(250,120,30,0.4)"},{"offset":1,"color":"rgba(240,60,20,0)"}]}}}
]},
{"transform":[{"filter":{"field":"k","equal":"f"}}],"mark":{"type":"rule","strokeWidth":7.5,"color":"#000000","clip":true},"encoding":{"x":{"datum":0,"type":"quantitative"},"y":{"field":"bot","type":"quantitative"},"y2":{"field":"top"}}},
{"transform":[{"filter":{"field":"k","equal":"f"}}],"mark":{"type":"rule","strokeWidth":1.6,"color":"#000000","clip":true},"encoding":{"x":{"datum":1,"type":"quantitative"},"y":{"field":"bot","type":"quantitative"},"y2":{"field":"top"}}},
{"transform":[{"filter":{"field":"k","equal":"f"}}],"mark":{"type":"rule","strokeWidth":1.6,"color":"#000000","clip":true},"encoding":{"x":{"field":"from","type":"quantitative"},"x2":{"datum":1},"y":{"datum":0,"type":"quantitative"}}},
{"transform":[{"filter":{"field":"k","equal":"f"}}],"mark":{"type":"text","align":"center","baseline":"alphabetic","lineBreak":"\n","font":"Liberation Sans","fontSize":22.3,"lineHeight":27,"color":"#2d2d2d"},"encoding":{"x":{"datum":-0.413,"type":"quantitative"},"y":{"field":"ly","type":"quantitative"},"text":{"field":"label"}}}
]},
{"width":263,"height":298,"transform":[{"filter":{"field":"p","equal":"32"}}],"layer":[
{"encoding":{"x":{"field":"x","type":"quantitative","scale":{"domain":[-0.8264,1.3471],"nice":false,"zero":false}},"y":{"field":"y","type":"quantitative","scale":{"domain":[-0.83,2.15],"nice":false,"zero":false}},"shape":{"field":"f","type":"nominal","scale":{"domain":["c11","c12","c13","c21","c22","c23","c31","c32","c33","c41","c42","c43","o","s1","s2","s3"]}},"size":{"field":"h","type":"quantitative","scale":{"type":"pow","exponent":2,"domain":[0,1],"range":[0,10000]}}},"layer":[
{"transform":[{"filter":{"field":"k","equal":"s"}}],"mark":{"type":"point","filled":true,"opacity":1,"clip":true,"fill":{"gradient":"linear","x1":0,"y1":0,"x2":1,"y2":0,"stops":[{"offset":0,"color":"rgba(0,0,0,0)"},{"offset":0.3,"color":"rgba(0,0,0,0.045)"},{"offset":0.5,"color":"rgba(0,0,0,0.17)"},{"offset":0.7,"color":"rgba(0,0,0,0.045)"},{"offset":1,"color":"rgba(0,0,0,0)"}]}}},
{"transform":[{"filter":{"field":"k","equal":"c"}}],"mark":{"type":"point","filled":true,"clip":true,"fill":{"gradient":"radial","x1":0.5,"y1":0.5,"r1":0,"x2":0.5,"y2":0.5,"r2":0.5,"stops":[{"offset":0,"color":"rgba(0,0,0,0.35)"},{"offset":0.3,"color":"rgba(0,0,0,0.24)"},{"offset":0.55,"color":"rgba(0,0,0,0.11)"},{"offset":0.78,"color":"rgba(0,0,0,0.035)"},{"offset":1,"color":"rgba(0,0,0,0)"}]}},"encoding":{"opacity":{"field":"wt","type":"quantitative","scale":{"domain":[0,1],"range":[0,1]}}}},
{"transform":[{"filter":{"field":"k","equal":"g"}}],"mark":{"type":"point","filled":true,"opacity":1,"clip":true},"encoding":{"color":{"field":"lv","type":"nominal","scale":{"domain":["h1","h2","h3","h4","h5","k1","k2","k3","k4","k5","k6","k7","k8"],"range":["rgba(0,0,0,0.1)","rgba(0,0,0,0.12)","rgba(0,0,0,0.18)","rgba(0,0,0,0.28)","rgba(0,0,0,0.45)","#000000","#0e0000","#3a0000","#6e0202","#a00808","#c81010","#e21e14","#f03a1a"]}},"order":{"field":"lv","type":"ordinal"}}},
{"transform":[{"filter":{"field":"k","equal":"w"}}],"mark":{"type":"point","filled":true,"opacity":1,"clip":true,"fill":{"gradient":"radial","x1":0.5,"y1":0.5,"r1":0,"x2":0.5,"y2":0.5,"r2":0.5,"stops":[{"offset":0,"color":"#ffffff"},{"offset":0.4,"color":"#ffffff"},{"offset":0.52,"color":"#fff3a8"},{"offset":0.66,"color":"rgba(255,200,70,0.85)"},{"offset":0.82,"color":"rgba(250,120,30,0.4)"},{"offset":1,"color":"rgba(240,60,20,0)"}]}}}
]},
{"transform":[{"filter":{"field":"k","equal":"f"}}],"mark":{"type":"rule","strokeWidth":7.5,"color":"#000000","clip":true},"encoding":{"x":{"datum":0,"type":"quantitative"},"y":{"field":"bot","type":"quantitative"},"y2":{"field":"top"}}},
{"transform":[{"filter":{"field":"k","equal":"f"}}],"mark":{"type":"rule","strokeWidth":1.6,"color":"#000000","clip":true},"encoding":{"x":{"datum":1,"type":"quantitative"},"y":{"field":"bot","type":"quantitative"},"y2":{"field":"top"}}},
{"transform":[{"filter":{"field":"k","equal":"f"}}],"mark":{"type":"rule","strokeWidth":1.6,"color":"#000000","clip":true},"encoding":{"x":{"field":"from","type":"quantitative"},"x2":{"datum":1},"y":{"datum":0,"type":"quantitative"}}},
{"transform":[{"filter":{"field":"k","equal":"f"}}],"mark":{"type":"text","align":"center","baseline":"alphabetic","lineBreak":"\n","font":"Liberation Sans","fontSize":22.3,"lineHeight":27,"color":"#2d2d2d"},"encoding":{"x":{"datum":-0.413,"type":"quantitative"},"y":{"field":"ly","type":"quantitative"},"text":{"field":"label"}}}
]},
{"width":215,"height":298,"transform":[{"filter":{"field":"p","equal":"33"}}],"layer":[
{"encoding":{"x":{"field":"x","type":"quantitative","scale":{"domain":[-0.8264,0.9504],"nice":false,"zero":false}},"y":{"field":"y","type":"quantitative","scale":{"domain":[-0.83,2.15],"nice":false,"zero":false}},"shape":{"field":"f","type":"nominal","scale":{"domain":["c11","c12","c13","c21","c22","c23","c31","c32","c33","c41","c42","c43","o","s1","s2","s3"]}},"size":{"field":"h","type":"quantitative","scale":{"type":"pow","exponent":2,"domain":[0,1],"range":[0,10000]}}},"layer":[
{"transform":[{"filter":{"field":"k","equal":"s"}}],"mark":{"type":"point","filled":true,"opacity":1,"clip":true,"fill":{"gradient":"linear","x1":0,"y1":0,"x2":1,"y2":0,"stops":[{"offset":0,"color":"rgba(0,0,0,0)"},{"offset":0.3,"color":"rgba(0,0,0,0.045)"},{"offset":0.5,"color":"rgba(0,0,0,0.17)"},{"offset":0.7,"color":"rgba(0,0,0,0.045)"},{"offset":1,"color":"rgba(0,0,0,0)"}]}}},
{"transform":[{"filter":{"field":"k","equal":"c"}}],"mark":{"type":"point","filled":true,"clip":true,"fill":{"gradient":"radial","x1":0.5,"y1":0.5,"r1":0,"x2":0.5,"y2":0.5,"r2":0.5,"stops":[{"offset":0,"color":"rgba(0,0,0,0.35)"},{"offset":0.3,"color":"rgba(0,0,0,0.24)"},{"offset":0.55,"color":"rgba(0,0,0,0.11)"},{"offset":0.78,"color":"rgba(0,0,0,0.035)"},{"offset":1,"color":"rgba(0,0,0,0)"}]}},"encoding":{"opacity":{"field":"wt","type":"quantitative","scale":{"domain":[0,1],"range":[0,1]}}}},
{"transform":[{"filter":{"field":"k","equal":"g"}}],"mark":{"type":"point","filled":true,"opacity":1,"clip":true},"encoding":{"color":{"field":"lv","type":"nominal","scale":{"domain":["h1","h2","h3","h4","h5","k1","k2","k3","k4","k5","k6","k7","k8"],"range":["rgba(0,0,0,0.1)","rgba(0,0,0,0.12)","rgba(0,0,0,0.18)","rgba(0,0,0,0.28)","rgba(0,0,0,0.45)","#000000","#0e0000","#3a0000","#6e0202","#a00808","#c81010","#e21e14","#f03a1a"]}},"order":{"field":"lv","type":"ordinal"}}},
{"transform":[{"filter":{"field":"k","equal":"w"}}],"mark":{"type":"point","filled":true,"opacity":1,"clip":true,"fill":{"gradient":"radial","x1":0.5,"y1":0.5,"r1":0,"x2":0.5,"y2":0.5,"r2":0.5,"stops":[{"offset":0,"color":"#ffffff"},{"offset":0.4,"color":"#ffffff"},{"offset":0.52,"color":"#fff3a8"},{"offset":0.66,"color":"rgba(255,200,70,0.85)"},{"offset":0.82,"color":"rgba(250,120,30,0.4)"},{"offset":1,"color":"rgba(240,60,20,0)"}]}}}
]},
{"transform":[{"filter":{"field":"k","equal":"f"}}],"mark":{"type":"rule","strokeWidth":7.5,"color":"#000000","clip":true},"encoding":{"x":{"datum":0,"type":"quantitative"},"y":{"field":"bot","type":"quantitative"},"y2":{"field":"top"}}},
{"transform":[{"filter":{"field":"k","equal":"f"}}],"mark":{"type":"rule","strokeWidth":1.6,"color":"#000000","clip":true},"encoding":{"x":{"datum":1,"type":"quantitative"},"y":{"field":"bot","type":"quantitative"},"y2":{"field":"top"}}},
{"transform":[{"filter":{"field":"k","equal":"f"}}],"mark":{"type":"rule","strokeWidth":1.6,"color":"#000000","clip":true},"encoding":{"x":{"field":"from","type":"quantitative"},"x2":{"datum":1},"y":{"datum":0,"type":"quantitative"}}},
{"transform":[{"filter":{"field":"k","equal":"f"}}],"mark":{"type":"text","align":"center","baseline":"alphabetic","lineBreak":"\n","font":"Liberation Sans","fontSize":22.3,"lineHeight":27,"color":"#2d2d2d"},"encoding":{"x":{"datum":-0.413,"type":"quantitative"},"y":{"field":"ly","type":"quantitative"},"text":{"field":"label"}}}
]},
{"width":242,"height":258,"transform":[{"filter":{"field":"p","equal":"41"}}],"layer":[
{"encoding":{"x":{"field":"x","type":"quantitative","scale":{"domain":[-0.8264,1.1736],"nice":false,"zero":false}},"y":{"field":"y","type":"quantitative","scale":{"domain":[-0.513,2.067],"nice":false,"zero":false}},"shape":{"field":"f","type":"nominal","scale":{"domain":["c11","c12","c13","c21","c22","c23","c31","c32","c33","c41","c42","c43","o","s1","s2","s3"]}},"size":{"field":"h","type":"quantitative","scale":{"type":"pow","exponent":2,"domain":[0,1],"range":[0,10000]}}},"layer":[
{"transform":[{"filter":{"field":"k","equal":"s"}}],"mark":{"type":"point","filled":true,"opacity":1,"clip":true,"fill":{"gradient":"linear","x1":0,"y1":0,"x2":1,"y2":0,"stops":[{"offset":0,"color":"rgba(0,0,0,0)"},{"offset":0.3,"color":"rgba(0,0,0,0.045)"},{"offset":0.5,"color":"rgba(0,0,0,0.17)"},{"offset":0.7,"color":"rgba(0,0,0,0.045)"},{"offset":1,"color":"rgba(0,0,0,0)"}]}}},
{"transform":[{"filter":{"field":"k","equal":"c"}}],"mark":{"type":"point","filled":true,"clip":true,"fill":{"gradient":"radial","x1":0.5,"y1":0.5,"r1":0,"x2":0.5,"y2":0.5,"r2":0.5,"stops":[{"offset":0,"color":"rgba(0,0,0,0.35)"},{"offset":0.3,"color":"rgba(0,0,0,0.24)"},{"offset":0.55,"color":"rgba(0,0,0,0.11)"},{"offset":0.78,"color":"rgba(0,0,0,0.035)"},{"offset":1,"color":"rgba(0,0,0,0)"}]}},"encoding":{"opacity":{"field":"wt","type":"quantitative","scale":{"domain":[0,1],"range":[0,1]}}}},
{"transform":[{"filter":{"field":"k","equal":"g"}}],"mark":{"type":"point","filled":true,"opacity":1,"clip":true},"encoding":{"color":{"field":"lv","type":"nominal","scale":{"domain":["h1","h2","h3","h4","h5","k1","k2","k3","k4","k5","k6","k7","k8"],"range":["rgba(0,0,0,0.1)","rgba(0,0,0,0.12)","rgba(0,0,0,0.18)","rgba(0,0,0,0.28)","rgba(0,0,0,0.45)","#000000","#0e0000","#3a0000","#6e0202","#a00808","#c81010","#e21e14","#f03a1a"]}},"order":{"field":"lv","type":"ordinal"}}},
{"transform":[{"filter":{"field":"k","equal":"w"}}],"mark":{"type":"point","filled":true,"opacity":1,"clip":true,"fill":{"gradient":"radial","x1":0.5,"y1":0.5,"r1":0,"x2":0.5,"y2":0.5,"r2":0.5,"stops":[{"offset":0,"color":"#ffffff"},{"offset":0.4,"color":"#ffffff"},{"offset":0.52,"color":"#fff3a8"},{"offset":0.66,"color":"rgba(255,200,70,0.85)"},{"offset":0.82,"color":"rgba(250,120,30,0.4)"},{"offset":1,"color":"rgba(240,60,20,0)"}]}}}
]},
{"transform":[{"filter":{"field":"k","equal":"f"}}],"mark":{"type":"rule","strokeWidth":7.5,"color":"#000000","clip":true},"encoding":{"x":{"datum":0,"type":"quantitative"},"y":{"field":"bot","type":"quantitative"},"y2":{"field":"top"}}},
{"transform":[{"filter":{"field":"k","equal":"f"}}],"mark":{"type":"rule","strokeWidth":1.6,"color":"#000000","clip":true},"encoding":{"x":{"datum":1,"type":"quantitative"},"y":{"field":"bot","type":"quantitative"},"y2":{"field":"top"}}},
{"transform":[{"filter":{"field":"k","equal":"f"}}],"mark":{"type":"rule","strokeWidth":1.6,"color":"#000000","clip":true},"encoding":{"x":{"field":"from","type":"quantitative"},"x2":{"datum":1},"y":{"datum":0,"type":"quantitative"}}},
{"transform":[{"filter":{"field":"k","equal":"f"}}],"mark":{"type":"text","align":"center","baseline":"alphabetic","lineBreak":"\n","font":"Liberation Sans","fontSize":22.3,"lineHeight":27,"color":"#2d2d2d"},"encoding":{"x":{"datum":-0.413,"type":"quantitative"},"y":{"field":"ly","type":"quantitative"},"text":{"field":"label"}}}
]},
{"width":263,"height":258,"transform":[{"filter":{"field":"p","equal":"42"}}],"layer":[
{"encoding":{"x":{"field":"x","type":"quantitative","scale":{"domain":[-0.8264,1.3471],"nice":false,"zero":false}},"y":{"field":"y","type":"quantitative","scale":{"domain":[-0.513,2.067],"nice":false,"zero":false}},"shape":{"field":"f","type":"nominal","scale":{"domain":["c11","c12","c13","c21","c22","c23","c31","c32","c33","c41","c42","c43","o","s1","s2","s3"]}},"size":{"field":"h","type":"quantitative","scale":{"type":"pow","exponent":2,"domain":[0,1],"range":[0,10000]}}},"layer":[
{"transform":[{"filter":{"field":"k","equal":"s"}}],"mark":{"type":"point","filled":true,"opacity":1,"clip":true,"fill":{"gradient":"linear","x1":0,"y1":0,"x2":1,"y2":0,"stops":[{"offset":0,"color":"rgba(0,0,0,0)"},{"offset":0.3,"color":"rgba(0,0,0,0.045)"},{"offset":0.5,"color":"rgba(0,0,0,0.17)"},{"offset":0.7,"color":"rgba(0,0,0,0.045)"},{"offset":1,"color":"rgba(0,0,0,0)"}]}}},
{"transform":[{"filter":{"field":"k","equal":"c"}}],"mark":{"type":"point","filled":true,"clip":true,"fill":{"gradient":"radial","x1":0.5,"y1":0.5,"r1":0,"x2":0.5,"y2":0.5,"r2":0.5,"stops":[{"offset":0,"color":"rgba(0,0,0,0.35)"},{"offset":0.3,"color":"rgba(0,0,0,0.24)"},{"offset":0.55,"color":"rgba(0,0,0,0.11)"},{"offset":0.78,"color":"rgba(0,0,0,0.035)"},{"offset":1,"color":"rgba(0,0,0,0)"}]}},"encoding":{"opacity":{"field":"wt","type":"quantitative","scale":{"domain":[0,1],"range":[0,1]}}}},
{"transform":[{"filter":{"field":"k","equal":"g"}}],"mark":{"type":"point","filled":true,"opacity":1,"clip":true},"encoding":{"color":{"field":"lv","type":"nominal","scale":{"domain":["h1","h2","h3","h4","h5","k1","k2","k3","k4","k5","k6","k7","k8"],"range":["rgba(0,0,0,0.1)","rgba(0,0,0,0.12)","rgba(0,0,0,0.18)","rgba(0,0,0,0.28)","rgba(0,0,0,0.45)","#000000","#0e0000","#3a0000","#6e0202","#a00808","#c81010","#e21e14","#f03a1a"]}},"order":{"field":"lv","type":"ordinal"}}},
{"transform":[{"filter":{"field":"k","equal":"w"}}],"mark":{"type":"point","filled":true,"opacity":1,"clip":true,"fill":{"gradient":"radial","x1":0.5,"y1":0.5,"r1":0,"x2":0.5,"y2":0.5,"r2":0.5,"stops":[{"offset":0,"color":"#ffffff"},{"offset":0.4,"color":"#ffffff"},{"offset":0.52,"color":"#fff3a8"},{"offset":0.66,"color":"rgba(255,200,70,0.85)"},{"offset":0.82,"color":"rgba(250,120,30,0.4)"},{"offset":1,"color":"rgba(240,60,20,0)"}]}}}
]},
{"transform":[{"filter":{"field":"k","equal":"f"}}],"mark":{"type":"rule","strokeWidth":7.5,"color":"#000000","clip":true},"encoding":{"x":{"datum":0,"type":"quantitative"},"y":{"field":"bot","type":"quantitative"},"y2":{"field":"top"}}},
{"transform":[{"filter":{"field":"k","equal":"f"}}],"mark":{"type":"rule","strokeWidth":1.6,"color":"#000000","clip":true},"encoding":{"x":{"datum":1,"type":"quantitative"},"y":{"field":"bot","type":"quantitative"},"y2":{"field":"top"}}},
{"transform":[{"filter":{"field":"k","equal":"f"}}],"mark":{"type":"rule","strokeWidth":1.6,"color":"#000000","clip":true},"encoding":{"x":{"field":"from","type":"quantitative"},"x2":{"datum":1},"y":{"datum":0,"type":"quantitative"}}},
{"transform":[{"filter":{"field":"k","equal":"f"}}],"mark":{"type":"text","align":"center","baseline":"alphabetic","lineBreak":"\n","font":"Liberation Sans","fontSize":22.3,"lineHeight":27,"color":"#2d2d2d"},"encoding":{"x":{"datum":-0.413,"type":"quantitative"},"y":{"field":"ly","type":"quantitative"},"text":{"field":"label"}}}
]},
{"width":215,"height":258,"transform":[{"filter":{"field":"p","equal":"43"}}],"layer":[
{"encoding":{"x":{"field":"x","type":"quantitative","scale":{"domain":[-0.8264,0.9504],"nice":false,"zero":false}},"y":{"field":"y","type":"quantitative","scale":{"domain":[-0.513,2.067],"nice":false,"zero":false}},"shape":{"field":"f","type":"nominal","scale":{"domain":["c11","c12","c13","c21","c22","c23","c31","c32","c33","c41","c42","c43","o","s1","s2","s3"]}},"size":{"field":"h","type":"quantitative","scale":{"type":"pow","exponent":2,"domain":[0,1],"range":[0,10000]}}},"layer":[
{"transform":[{"filter":{"field":"k","equal":"s"}}],"mark":{"type":"point","filled":true,"opacity":1,"clip":true,"fill":{"gradient":"linear","x1":0,"y1":0,"x2":1,"y2":0,"stops":[{"offset":0,"color":"rgba(0,0,0,0)"},{"offset":0.3,"color":"rgba(0,0,0,0.045)"},{"offset":0.5,"color":"rgba(0,0,0,0.17)"},{"offset":0.7,"color":"rgba(0,0,0,0.045)"},{"offset":1,"color":"rgba(0,0,0,0)"}]}}},
{"transform":[{"filter":{"field":"k","equal":"c"}}],"mark":{"type":"point","filled":true,"clip":true,"fill":{"gradient":"radial","x1":0.5,"y1":0.5,"r1":0,"x2":0.5,"y2":0.5,"r2":0.5,"stops":[{"offset":0,"color":"rgba(0,0,0,0.35)"},{"offset":0.3,"color":"rgba(0,0,0,0.24)"},{"offset":0.55,"color":"rgba(0,0,0,0.11)"},{"offset":0.78,"color":"rgba(0,0,0,0.035)"},{"offset":1,"color":"rgba(0,0,0,0)"}]}},"encoding":{"opacity":{"field":"wt","type":"quantitative","scale":{"domain":[0,1],"range":[0,1]}}}},
{"transform":[{"filter":{"field":"k","equal":"g"}}],"mark":{"type":"point","filled":true,"opacity":1,"clip":true},"encoding":{"color":{"field":"lv","type":"nominal","scale":{"domain":["h1","h2","h3","h4","h5","k1","k2","k3","k4","k5","k6","k7","k8"],"range":["rgba(0,0,0,0.1)","rgba(0,0,0,0.12)","rgba(0,0,0,0.18)","rgba(0,0,0,0.28)","rgba(0,0,0,0.45)","#000000","#0e0000","#3a0000","#6e0202","#a00808","#c81010","#e21e14","#f03a1a"]}},"order":{"field":"lv","type":"ordinal"}}},
{"transform":[{"filter":{"field":"k","equal":"w"}}],"mark":{"type":"point","filled":true,"opacity":1,"clip":true,"fill":{"gradient":"radial","x1":0.5,"y1":0.5,"r1":0,"x2":0.5,"y2":0.5,"r2":0.5,"stops":[{"offset":0,"color":"#ffffff"},{"offset":0.4,"color":"#ffffff"},{"offset":0.52,"color":"#fff3a8"},{"offset":0.66,"color":"rgba(255,200,70,0.85)"},{"offset":0.82,"color":"rgba(250,120,30,0.4)"},{"offset":1,"color":"rgba(240,60,20,0)"}]}}}
]},
{"transform":[{"filter":{"field":"k","equal":"f"}}],"mark":{"type":"rule","strokeWidth":7.5,"color":"#000000","clip":true},"encoding":{"x":{"datum":0,"type":"quantitative"},"y":{"field":"bot","type":"quantitative"},"y2":{"field":"top"}}},
{"transform":[{"filter":{"field":"k","equal":"f"}}],"mark":{"type":"rule","strokeWidth":1.6,"color":"#000000","clip":true},"encoding":{"x":{"datum":1,"type":"quantitative"},"y":{"field":"bot","type":"quantitative"},"y2":{"field":"top"}}},
{"transform":[{"filter":{"field":"k","equal":"f"}}],"mark":{"type":"rule","strokeWidth":1.6,"color":"#000000","clip":true},"encoding":{"x":{"field":"from","type":"quantitative"},"x2":{"datum":1},"y":{"datum":0,"type":"quantitative"}}},
{"transform":[{"filter":{"field":"k","equal":"f"}}],"mark":{"type":"text","align":"center","baseline":"alphabetic","lineBreak":"\n","font":"Liberation Sans","fontSize":22.3,"lineHeight":27,"color":"#2d2d2d"},"encoding":{"x":{"datum":-0.413,"type":"quantitative"},"y":{"field":"ly","type":"quantitative"},"text":{"field":"label"}}}
]}
]
}
